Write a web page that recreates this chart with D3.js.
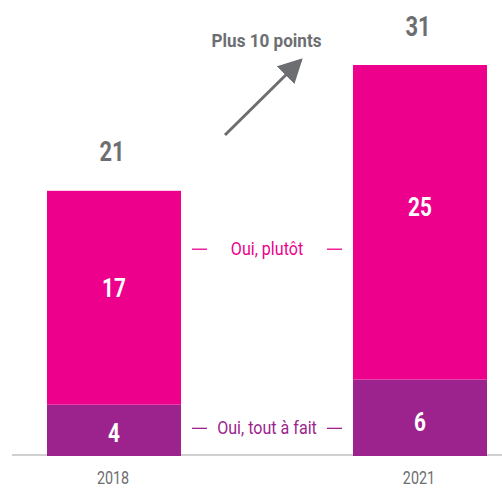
<!DOCTYPE html>
<html><head><meta charset="utf-8">
<script src="https://cdn.jsdelivr.net/npm/d3@7"></script>
<style>
body{margin:0;background:#fff;}
svg{display:block;}
text{font-family:"Roboto","Noto Sans",sans-serif;}
</style></head>
<body>
<svg id="chart" width="502" height="488"></svg>
<script>
const years = ["2018", "2021"];
const toutAFait = [4, 6];
const plutot = [17, 25];
const totals = [21, 31];
const seriesNames = ["Oui, tout à fait", "Oui, plutôt"];
const annotation = "Plus 10 points";

const colMagenta = "#ec008c";
const colPurple = "#9c238d";
const colGray = "#6d6e71";

const svg = d3.select("#chart");
const x = d3.scaleBand().domain(years).range([47, 487]).paddingInner(0.562).paddingOuter(0);
const y = d3.scaleLinear().domain([0, 31]).range([455, 65]);

const data = years.map((yr, i) => ({year: yr, a: toutAFait[i], b: plutot[i], t: totals[i]}));

function condText(parent, px, py, sx, txt) {
  return parent.append("text")
    .attr("transform", `translate(${px},${py}) scale(${sx},1)`)
    .attr("text-anchor", "middle").text(txt);
}

// baseline
svg.append("line").attr("x1", 12).attr("x2", 502).attr("y1", y(0)).attr("y2", y(0))
  .attr("stroke", "#d0d0d0").attr("stroke-width", 2);

// bars
const g = svg.append("g");
g.selectAll("rect.a").data(data).join("rect").attr("class", "a")
  .attr("x", d => x(d.year)).attr("width", x.bandwidth())
  .attr("y", d => y(d.a)).attr("height", d => y(0) - y(d.a) + 1)
  .attr("fill", colPurple);
g.selectAll("rect.b").data(data).join("rect").attr("class", "b")
  .attr("x", d => x(d.year)).attr("width", x.bandwidth())
  .attr("y", d => y(d.a + d.b)).attr("height", d => y(d.a) - y(d.a + d.b))
  .attr("fill", colMagenta);

const cx = d => x(d.year) + x.bandwidth() / 2;

data.forEach(d => {
  // inner labels
  condText(g, cx(d), y(d.a * 0.45) + 9.5, 0.8, d.a)
    .attr("fill", "#fff").attr("font-size", 26).attr("font-weight", "bold");
  condText(g, cx(d), y(d.a + d.b * 0.55) + 9.5, 0.8, d.b)
    .attr("fill", "#fff").attr("font-size", 26).attr("font-weight", "bold");
  // totals
  condText(g, cx(d) - 2, y(d.t) - 29.5, 0.78, d.t)
    .attr("fill", colGray).attr("font-size", 28).attr("font-weight", "bold");
  // year labels
  condText(g, cx(d) - 1, 484, 0.82, d.year)
    .attr("fill", colGray).attr("font-size", 17.5);
});

// legend labels between bars
const midX = (x(years[0]) + x.bandwidth() + x(years[1])) / 2;
const legend = [
  {name: seriesNames[1], base: y(16) + 1, col: colMagenta},
  {name: seriesNames[0], base: y(data[0].a / 2) + 4, col: colPurple}
];
legend.forEach(l => {
  condText(svg, midX, l.base, 0.92, l.name)
    .attr("fill", l.col).attr("font-size", 17.5);
  [[-75, -60], [60, 75]].forEach(([a, b]) => {
    svg.append("line").attr("x1", midX + a).attr("x2", midX + b)
      .attr("y1", l.base - 5.5).attr("y2", l.base - 5.5)
      .attr("stroke", l.col).attr("stroke-width", 1.3);
  });
});

// arrow
const defs = svg.append("defs");
defs.append("marker").attr("id", "ah").attr("viewBox", "0 0 10 10")
  .attr("refX", 9).attr("refY", 5)
  .attr("markerUnits", "userSpaceOnUse").attr("orient", "auto")
  .attr("markerWidth", 24).attr("markerHeight", 25)
  .attr("preserveAspectRatio", "none")
  .append("path").attr("d", "M0,0 L10,5 L0,10 Z").attr("fill", colGray);
svg.append("line").attr("x1", 225).attr("y1", 135).attr("x2", 301).attr("y2", 60)
  .attr("stroke", colGray).attr("stroke-width", 3).attr("marker-end", "url(#ah)");

condText(svg, 266.5, 47, 0.9, annotation)
  .attr("fill", colGray).attr("font-size", 19).attr("font-weight", "bold");
</script>
</body></html>
